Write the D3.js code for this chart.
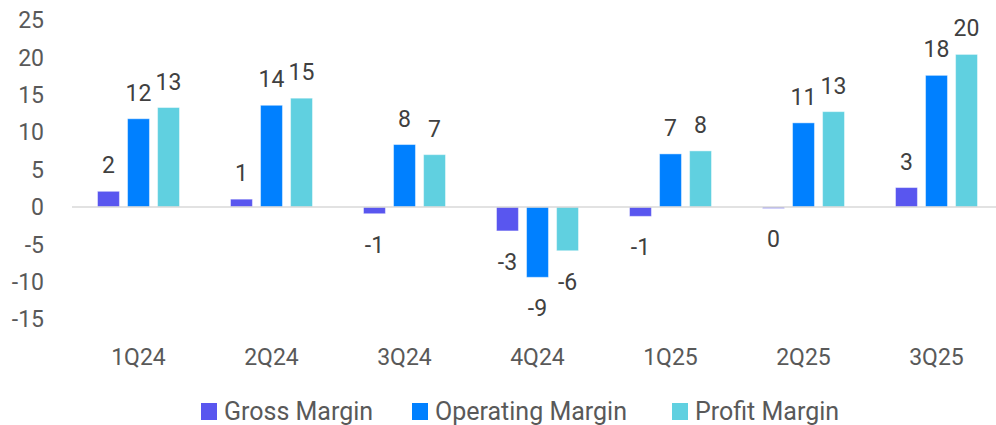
<!DOCTYPE html>
<html>
<head>
<meta charset="utf-8">
<script src="https://cdn.jsdelivr.net/npm/d3@7"></script>
<style>
  body { margin: 0; background: #fff; }
  text { font-family: Roboto, "Liberation Sans", Arial, sans-serif; }
</style>
</head>
<body>
<div id="chart"></div>
<script>

var quarters = ["1Q24", "2Q24", "3Q24", "4Q24", "1Q25", "2Q25", "3Q25"]
var series = ["Gross Margin", "Operating Margin", "Profit Margin"]
var grossMargin = [2.1, 1.05, -0.9, -3.2, -1.25, -0.2, 2.6]
var operatingMargin = [11.8, 13.6, 8.35, -9.4, 7.1, 11.25, 17.6]
var profitMargin = [13.3, 14.55, 7.0, -5.85, 7.5, 12.75, 20.4]
var yTicks = [-15, -10, -5, 0, 5, 10, 15, 20, 25]

var color = d3.scaleOrdinal()
  .domain(series)
  .range(["#5956EF", "#0080FF", "#60D0E0"])

var W = 996, H = 425

var data = []
quarters.forEach(function (q, i) {
  data.push({ q: q, s: series[0], v: grossMargin[i] })
  data.push({ q: q, s: series[1], v: operatingMargin[i] })
  data.push({ q: q, s: series[2], v: profitMargin[i] })
})

var x = d3.scaleBand()
  .domain(quarters)
  .range([72, 72 + 133 * 7])

var xs = d3.scaleBand()
  .domain(series)
  .range([-41, 41])
  .paddingInner(0.27)

var y = d3.scaleLinear()
  .domain([-15, 25])
  .range([319.2, 20])

var svg = d3.select("#chart").append("svg")
  .attr("width", W)
  .attr("height", H)

// y tick labels (no axis line, no gridlines)
svg.selectAll(".ytick")
  .data(yTicks)
  .enter().append("text")
  .attr("class", "ytick")
  .attr("x", 44)
  .attr("y", d => y(d))
  .attr("dy", "0.36em")
  .attr("text-anchor", "end")
  .attr("font-size", 23)
  .attr("fill", "#595959")
  .text(d => d)

// bars
svg.selectAll(".bar")
  .data(data)
  .enter().append("rect")
  .attr("class", "bar")
  .attr("x", d => x(d.q) + x.bandwidth() / 2 + xs(d.s))
  .attr("width", xs.bandwidth())
  .attr("y", d => y(Math.max(0, d.v)))
  .attr("height", d => Math.abs(y(d.v) - y(0)))
  .attr("fill", d => color(d.s))
  .attr("stroke", "#ffffff")
  .attr("stroke-opacity", 0.45)
  .attr("stroke-width", 1)

// zero line
svg.append("line")
  .attr("x1", 72)
  .attr("x2", W)
  .attr("y1", y(0))
  .attr("y2", y(0))
  .attr("stroke", "#d9d9d9")
  .attr("stroke-width", 1.5)

// value labels
svg.selectAll(".val")
  .data(data)
  .enter().append("text")
  .attr("class", "val")
  .attr("x", d => x(d.q) + x.bandwidth() / 2 + xs(d.s) + xs.bandwidth() / 2)
  .attr("y", d => d.v >= 0 ? y(d.v) - 18 : y(d.v) + 39)
  .attr("text-anchor", "middle")
  .attr("font-size", 23)
  .attr("fill", "#404040")
  .text(d => String(Math.round(d.v)))

// category labels
svg.selectAll(".cat")
  .data(quarters)
  .enter().append("text")
  .attr("class", "cat")
  .attr("x", d => x(d) + x.bandwidth() / 2)
  .attr("y", 365)
  .attr("text-anchor", "middle")
  .attr("font-size", 23)
  .attr("fill", "#595959")
  .text(d => d)

// legend
var legendX = [201, 412, 672]
var legend = svg.selectAll(".legend")
  .data(series)
  .enter().append("g")
  .attr("class", "legend")
  .attr("transform", (d, i) => "translate(" + legendX[i] + ",0)")

legend.append("rect")
  .attr("x", 0)
  .attr("y", 403)
  .attr("width", 16)
  .attr("height", 17)
  .attr("fill", d => color(d))

legend.append("text")
  .attr("x", 23)
  .attr("y", 420)
  .attr("font-size", 25)
  .attr("fill", "#595959")
  .text(d => d)

</script>
</body>
</html>
